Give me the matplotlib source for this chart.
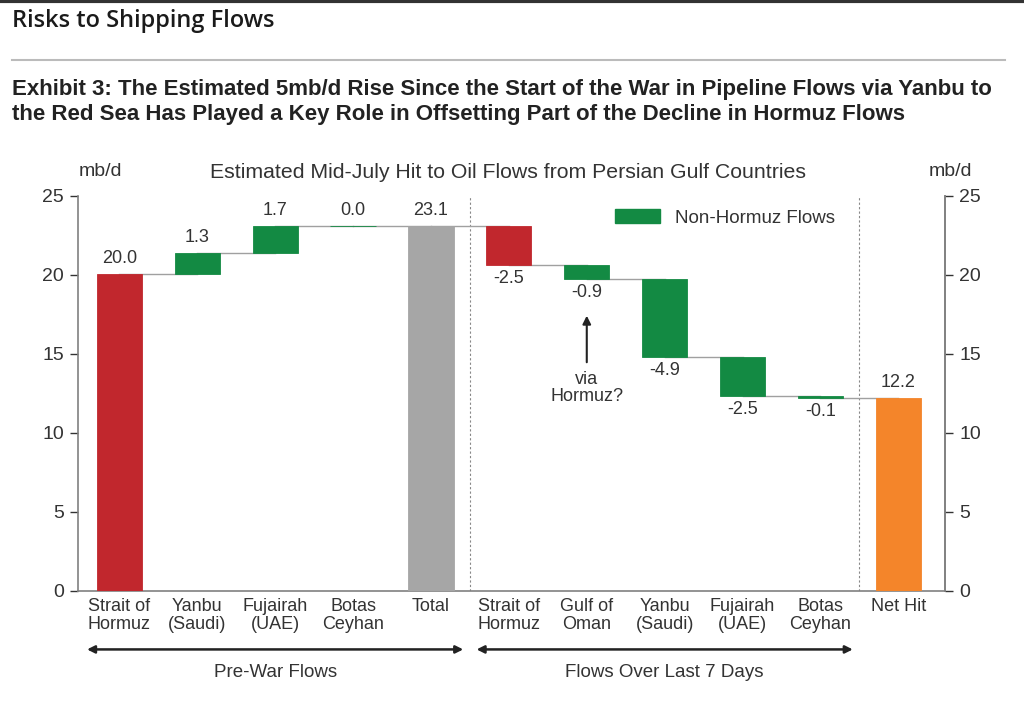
import matplotlib.pyplot as plt
import numpy as np
from matplotlib.patches import Patch

# data
cats = ['Strait of\nHormuz', 'Yanbu\n(Saudi)', 'Fujairah\n(UAE)', 'Botas\nCeyhan', 'Total',
        'Strait of\nHormuz', 'Gulf of\nOman', 'Yanbu\n(Saudi)', 'Fujairah\n(UAE)', 'Botas\nCeyhan', 'Net Hit']
changes = [20.04, 1.33, 1.71, 0.04, None, -2.5, -0.9, -4.9, -2.5, -0.1, None]
kinds = ['hormuz', 'non', 'non', 'non', 'total', 'hormuz', 'non', 'non', 'non', 'non', 'net']
group_names = ['Pre-War Flows', 'Flows Over Last 7 Days']

colors = {'hormuz': '#C1272D', 'non': '#138A43', 'total': '#A6A6A6', 'net': '#F4852A'}
txt = '#333333'

plt.rcParams['font.family'] = ['Liberation Sans', 'DejaVu Sans']

fig = plt.figure(figsize=(10.24, 7.08), dpi=100)
ax = fig.add_axes([0.0762, 0.1653, 0.8468, 0.5579])

x = np.arange(len(cats))
level = 0.0
bottoms, heights, tops = [], [], []
for c, k in zip(changes, kinds):
    if k in ('total', 'net'):
        b, h = 0.0, level
    else:
        b, h = level, c
        level = level + c
    bottoms.append(b)
    heights.append(h)
    tops.append(level)

w = 0.58
for i in range(len(cats)):
    ax.bar(x[i], heights[i], w, bottom=bottoms[i], color=colors[kinds[i]],
           edgecolor=colors[kinds[i]], linewidth=0.6, zorder=3)

# connectors
for i in range(len(cats) - 1):
    ax.plot([x[i], x[i + 1]], [tops[i], tops[i]], color='#A0A0A0', lw=1.0, zorder=2)

# value labels
fs_val = 13
for i in range(len(cats)):
    k = kinds[i]
    if k in ('total', 'net'):
        ax.text(x[i], heights[i] + 0.45, f'{heights[i]:.1f}', ha='center', va='bottom', fontsize=fs_val, color=txt)
    elif changes[i] >= 0:
        ax.text(x[i], bottoms[i] + heights[i] + 0.45, f'{changes[i]:.1f}', ha='center', va='bottom', fontsize=fs_val, color=txt)
    else:
        ax.text(x[i], bottoms[i] + heights[i] - 0.3, f'{changes[i]:.1f}', ha='center', va='top', fontsize=fs_val, color=txt)

for xv in (4.5, 9.5):
    ax.axvline(xv, color='#888888', lw=0.8, ls=(0, (2, 2)), zorder=1)

ax.set_xlim(-0.53, 10.6)
ax.set_ylim(0, 25)
ax.set_xticks(x)
ax.set_xticklabels(cats, fontsize=13, color=txt, linespacing=1.05)
ax.tick_params(axis='x', length=0, pad=5)
ax.set_yticks(np.arange(0, 26, 5))
ax.tick_params(axis='y', labelsize=14, colors=txt, length=6, width=1, direction='out', pad=4)
ax.spines['top'].set_visible(False)
for s in ('left', 'right', 'bottom'):
    ax.spines[s].set_color('#808080')
    ax.spines[s].set_linewidth(1.2)

ax2 = ax.twinx()
ax2.set_ylim(0, 25)
ax2.set_yticks(np.arange(0, 26, 5))
ax2.tick_params(axis='y', labelsize=14, colors=txt, length=6, width=1, direction='out', pad=4)
ax2.spines['top'].set_visible(False)
ax2.spines['right'].set_color('#808080')
ax2.spines['right'].set_linewidth(1.2)
ax2.spines['left'].set_visible(False)
ax2.spines['bottom'].set_visible(False)

# legend
ax.legend(handles=[Patch(color=colors['non'])], labels=['Non-Hormuz Flows'], loc='upper left',
          bbox_to_anchor=(0.6, 1.01), frameon=False, fontsize=13.5, handlelength=2.4, handleheight=0.8,
          labelcolor=txt)

# annotation
ax.annotate('', xy=(6, 17.6), xytext=(6, 14.3),
            arrowprops=dict(arrowstyle='-|>', color='#222222', lw=1.5, mutation_scale=12))
ax.text(6, 13.9, 'via\nHormuz?', ha='center', va='top', fontsize=13, color=txt, linespacing=1.0)

# headers
fig.text(100 / 1024, 1 - 172 / 708, 'mb/d', ha='center', va='center', fontsize=14, color=txt)
fig.text(950 / 1024, 1 - 172 / 708, 'mb/d', ha='center', va='center', fontsize=14, color=txt)
fig.text(508 / 1024, 1 - 172 / 708, 'Estimated Mid-July Hit to Oil Flows from Persian Gulf Countries',
         ha='center', va='center', fontsize=15.3, color=txt)

# group arrows
for (x0, x1), name in zip([(-0.45, 4.45), (4.55, 9.45)], group_names):
    ax.annotate('', xy=(x0, -3.7), xytext=(x1, -3.7), xycoords='data', annotation_clip=False,
                arrowprops=dict(arrowstyle='<|-|>', color='#222222', lw=1.8, mutation_scale=11))
    ax.text((x0 + x1) / 2, -4.6, name, ha='center', va='top', fontsize=13.5, color=txt, clip_on=False)

# page titles
fig.text(12 / 1024, 1 - 21 / 708, 'Risks to Shipping Flows', ha='left', va='center', fontsize=17,
         color='#1a1a1a', family=['Open Sans', 'DejaVu Sans'], fontweight='semibold')
fig.add_artist(plt.Line2D([12 / 1024, 1005 / 1024], [1 - 60 / 708, 1 - 60 / 708], color='#BBBBBB', lw=1.5))
fig.text(12 / 1024, 1 - 102 / 708,
         'Exhibit 3: The Estimated 5mb/d Rise Since the Start of the War in Pipeline Flows via Yanbu to\n'
         'the Red Sea Has Played a Key Role in Offsetting Part of the Decline in Hormuz Flows',
         ha='left', va='center', fontsize=16, fontweight='bold', color='#222222', linespacing=1.25)
fig.add_artist(plt.Line2D([0, 1], [0.998, 0.998], color='#333333', lw=3))

fig.savefig('out.png', dpi=100)
